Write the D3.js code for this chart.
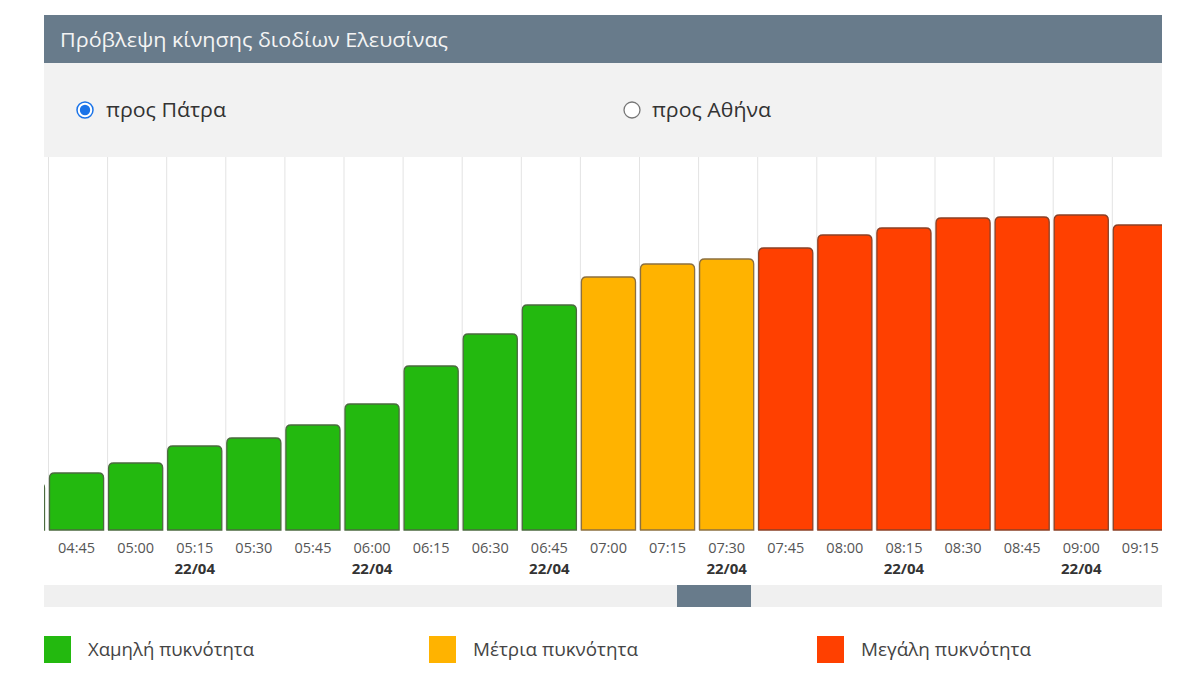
<!DOCTYPE html>
<html>
<head>
<meta charset="utf-8">
<script src="https://cdn.jsdelivr.net/npm/d3@7"></script>
<style>
  html, body { margin: 0; padding: 0; background: #ffffff; }
  svg { display: block; font-family: "Open Sans", "Noto Sans", sans-serif; }
</style>
</head>
<body>
<svg id="chart" width="1200" height="675"></svg>
<script>
// ---- data ----
const title = "Πρόβλεψη κίνησης διοδίων Ελευσίνας";
const directions = ["προς Πάτρα", "προς Αθήνα"];
const times = ["04:30","04:45","05:00","05:15","05:30","05:45","06:00","06:15","06:30","06:45",
               "07:00","07:15","07:30","07:45","08:00","08:15","08:30","08:45","09:00","09:15"];
const values = [47, 57, 67, 84, 92, 105, 126, 164, 196, 225,
                253, 266, 271, 282, 295, 302, 312, 313, 315, 305];
const levels = [0,0,0,0,0,0,0,0,0,0, 1,1,1, 2,2,2,2,2,2,2];
const dateLabel = "22/04";
const dateTicks = ["05:15","06:00","06:45","07:30","08:15","09:00"];
const legendNames = ["Χαμηλή πυκνότητα", "Μέτρια πυκνότητα", "Μεγάλη πυκνότητα"];
const legendColors = ["#23b90f", "#ffb300", "#ff4000"];
const borderColors = ["#4b6a3f", "#8c7040", "#8a4026"];

// ---- layout ----
const svg = d3.select("#chart");
const L = 44, R = 1162;
const plotTop = 157, plotBottom = 530;
const step = 59.1;
const firstBand = 48 - step; // band start of 04:30

// header
svg.append("rect").attr("x", L).attr("y", 15).attr("width", R - L).attr("height", 48).attr("fill", "#687b8b");
svg.append("text").attr("x", 60).attr("y", 47).attr("fill", "#f4f4f4")
  .attr("font-size", 20).attr("textLength", 388).attr("lengthAdjust", "spacingAndGlyphs").text(title);

// radio panel
svg.append("rect").attr("x", L).attr("y", 63).attr("width", R - L).attr("height", 94).attr("fill", "#f2f2f2");
// selected radio
svg.append("circle").attr("cx", 85).attr("cy", 110).attr("r", 8).attr("fill", "#ffffff")
  .attr("stroke", "#1a73e8").attr("stroke-width", 1.5);
svg.append("circle").attr("cx", 85).attr("cy", 110).attr("r", 5.2).attr("fill", "#1a73e8");
svg.append("text").attr("x", 106).attr("y", 117).attr("fill", "#333").attr("font-size", 20)
  .attr("textLength", 120).attr("lengthAdjust", "spacingAndGlyphs").text(directions[0]);
// unselected radio
svg.append("circle").attr("cx", 632).attr("cy", 110).attr("r", 8).attr("fill", "#ffffff")
  .attr("stroke", "#767676").attr("stroke-width", 1.3);
svg.append("text").attr("x", 652).attr("y", 117).attr("fill", "#333").attr("font-size", 20)
  .attr("textLength", 119).attr("lengthAdjust", "spacingAndGlyphs").text(directions[1]);

// scales
const x = d3.scaleBand().domain(times)
  .range([firstBand, firstBand + step * times.length]).paddingInner(0).paddingOuter(0);
const y = d3.scaleLinear().domain([0, 373]).range([plotBottom, plotTop]);

// clip
svg.append("defs").append("clipPath").attr("id", "plotclip")
  .append("rect").attr("x", L).attr("y", plotTop).attr("width", R - L).attr("height", 450);

const plot = svg.append("g").attr("clip-path", "url(#plotclip)");

// gridlines
plot.append("g").selectAll("line").data(times).join("line")
  .attr("x1", d => x(d) + 0.5).attr("x2", d => x(d) + 0.5)
  .attr("y1", plotTop).attr("y2", plotBottom)
  .attr("stroke", "#e3e3e3").attr("stroke-width", 1);

// bars with rounded top corners
const bw = x.bandwidth() - 5;
const rr = 5;
function barPath(x0, y0, w, h) {
  const r = Math.min(rr, h);
  return `M${x0},${y0 + h} L${x0},${y0 + r} Q${x0},${y0} ${x0 + r},${y0} L${x0 + w - r},${y0} Q${x0 + w},${y0} ${x0 + w},${y0 + r} L${x0 + w},${y0 + h} Z`;
}
plot.append("g").selectAll("path").data(times).join("path")
  .attr("d", (d, i) => barPath(x(d) + 1.5, y(values[i]), bw, plotBottom - y(values[i])))
  .attr("fill", (d, i) => legendColors[levels[i]])
  .attr("stroke", (d, i) => borderColors[levels[i]])
  .attr("stroke-width", 1.3);

// x axis labels
const labelG = svg.append("g");
const visible = times.filter(t => x(t) + x.bandwidth() / 2 > L && x(t) + x.bandwidth() / 2 < R);
labelG.selectAll("text.t").data(visible).join("text").attr("class", "t")
  .attr("x", d => x(d) + 1.5 + bw / 2).attr("y", 553)
  .attr("text-anchor", "middle").attr("font-size", 14.5).attr("fill", "#555").text(d => d);
labelG.selectAll("text.d").data(dateTicks).join("text").attr("class", "d")
  .attr("x", d => x(d) + 1.5 + bw / 2).attr("y", 574)
  .attr("text-anchor", "middle").attr("font-size", 15).attr("font-weight", "bold").attr("fill", "#333").text(dateLabel);

// scrollbar
svg.append("rect").attr("x", L).attr("y", 585).attr("width", R - L).attr("height", 22).attr("fill", "#f0f0f0");
svg.append("rect").attr("x", 677).attr("y", 585).attr("width", 74).attr("height", 22).attr("fill", "#687b8b");

// legend
const legX = [44, 429, 817];
const legW = [166, 165, 170];
const leg = svg.append("g").selectAll("g").data(legendNames).join("g")
  .attr("transform", (d, i) => `translate(${legX[i]},636)`);
leg.append("rect").attr("width", 27).attr("height", 27).attr("fill", (d, i) => legendColors[i]);
leg.append("text").attr("x", 44).attr("y", 20).attr("font-size", 17.5).attr("fill", "#444")
  .attr("textLength", (d, i) => legW[i]).attr("lengthAdjust", "spacingAndGlyphs").text(d => d);
</script>
</body>
</html>
